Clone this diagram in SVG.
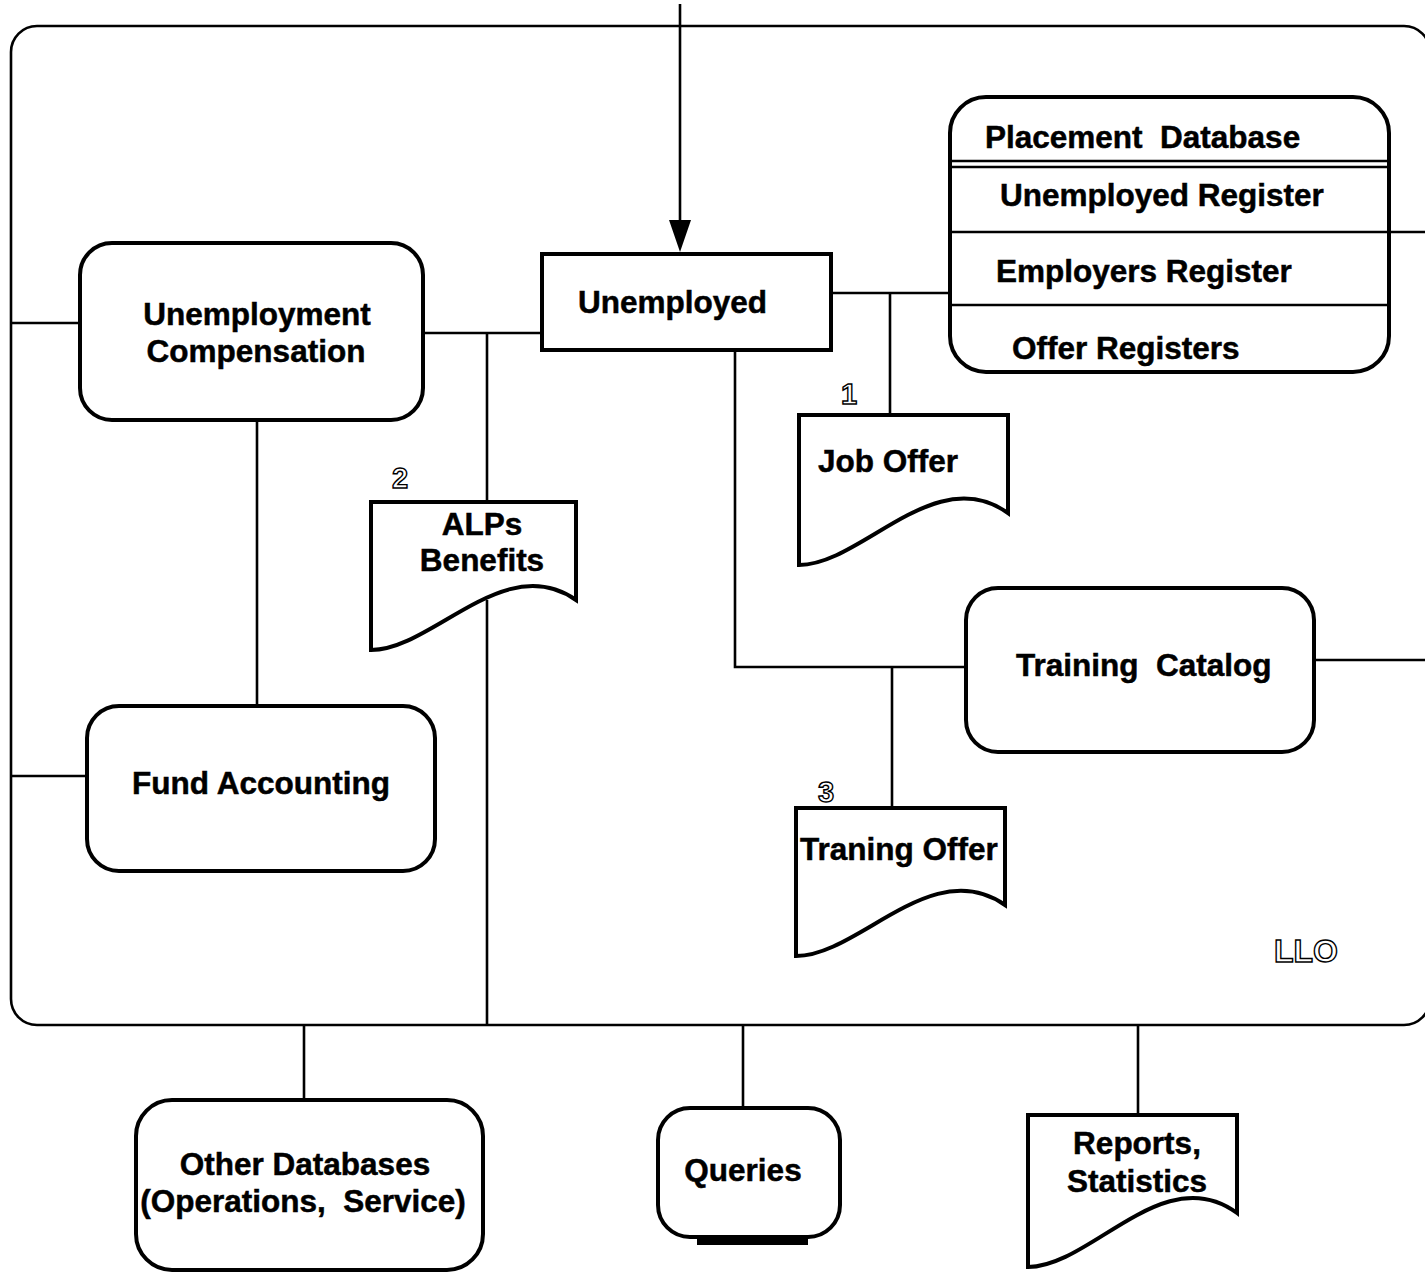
<svg xmlns="http://www.w3.org/2000/svg" width="1425" height="1272" viewBox="0 0 1425 1272">
  <style>
    .box { fill: #ffffff; stroke: #000000; stroke-width: 4; }
    .frame { fill: #ffffff; stroke: #000000; stroke-width: 2.6; }
    .wire { fill: none; stroke: #000000; stroke-width: 2.6; }
    .lbl { font-family: "Liberation Sans", Arial, Helvetica, sans-serif; font-weight: bold; font-size: 31.5px; fill: #000000; stroke: #000000; stroke-width: 0.5; }
    .mid { text-anchor: middle; }
    .hollow { font-family: "Liberation Sans", Arial, Helvetica, sans-serif; font-weight: bold; fill: #ffffff; stroke: #000000; stroke-width: 1.4; }
  </style>

  <rect width="1425" height="1272" fill="#ffffff"/>

  <!-- system boundary -->
  <rect class="frame" x="11" y="26" width="1419" height="999" rx="26" ry="26"/>

  <!-- connectors -->
  <g id="connectors">
    <line class="wire" x1="680" y1="4" x2="680" y2="220"/>
    <path d="M669,220 L691,220 L680,252 Z" fill="#000000"/>
    <!-- left edge feeds -->
    <line class="wire" x1="11" y1="323" x2="80" y2="323"/>
    <line class="wire" x1="11" y1="776" x2="87" y2="776"/>
    <!-- compensation to fund accounting -->
    <line class="wire" x1="257" y1="420" x2="257" y2="706"/>
    <!-- compensation to unemployed -->
    <line class="wire" x1="423" y1="333" x2="542" y2="333"/>
    <!-- benefits branch -->
    <line class="wire" x1="487" y1="333" x2="487" y2="502"/>
    <line class="wire" x1="487" y1="600" x2="487" y2="1025"/>
    <!-- unemployed to placement database -->
    <line class="wire" x1="831" y1="293" x2="950" y2="293"/>
    <line class="wire" x1="890" y1="293" x2="890" y2="415"/>
    <line class="wire" x1="1389" y1="232" x2="1425" y2="232"/>
    <!-- unemployed to training catalog -->
    <polyline class="wire" points="735,350 735,667 966,667"/>
    <line class="wire" x1="892" y1="667" x2="892" y2="808"/>
    <line class="wire" x1="1314" y1="660" x2="1425" y2="660"/>
    <!-- outputs below the boundary -->
    <line class="wire" x1="304" y1="1025" x2="304" y2="1100"/>
    <line class="wire" x1="743" y1="1025" x2="743" y2="1108"/>
    <line class="wire" x1="1138" y1="1025" x2="1138" y2="1115"/>
  </g>

  <g id="unemployed">
    <rect class="box" x="542" y="254" width="289" height="96"/>
    <text class="lbl" x="578" y="313">Unemployed</text>
  </g>

  <g id="unemployment-compensation">
    <rect class="box" x="80" y="243" width="343" height="177" rx="32" ry="32"/>
    <text class="lbl mid" x="257" y="325">Unemployment</text>
    <text class="lbl mid" x="256" y="362">Compensation</text>
  </g>

  <g id="fund-accounting">
    <rect class="box" x="87" y="706" width="348" height="165" rx="32" ry="32"/>
    <text class="lbl mid" x="261" y="794">Fund Accounting</text>
  </g>

  <g id="placement-database">
    <rect class="box" x="950" y="97" width="439" height="275" rx="36" ry="36"/>
    <line class="wire" x1="950" y1="161" x2="1389" y2="161"/>
    <line class="wire" x1="950" y1="167" x2="1389" y2="167"/>
    <line class="wire" x1="950" y1="232" x2="1389" y2="232"/>
    <line class="wire" x1="950" y1="305" x2="1389" y2="305"/>
    <text class="lbl" x="985" y="148" xml:space="preserve">Placement  Database</text>
    <text class="lbl" x="1000" y="206">Unemployed Register</text>
    <text class="lbl" x="996" y="282">Employers Register</text>
    <text class="lbl" x="1012" y="359">Offer Registers</text>
  </g>

  <g id="job-offer">
    <path class="box" d="M799,415 H1008 V513 C934.9,461 861.7,565 799,565 Z"/>
    <text class="lbl" x="818" y="472">Job Offer</text>
    <text class="hollow" x="849" y="404" font-size="29" text-anchor="middle">1</text>
  </g>

  <g id="alps-benefits">
    <path class="box" d="M371,502 H576 V600 C504.3,550 432.5,650 371,650 Z"/>
    <text class="lbl mid" x="482" y="535">ALPs</text>
    <text class="lbl mid" x="482" y="571">Benefits</text>
    <text class="hollow" x="400" y="488" font-size="29" text-anchor="middle">2</text>
  </g>

  <g id="training-catalog">
    <rect class="box" x="966" y="588" width="348" height="164" rx="32" ry="32"/>
    <text class="lbl" x="1016" y="676" xml:space="preserve">Training  Catalog</text>
  </g>

  <g id="training-offer">
    <path class="box" d="M796,808 H1005 V905 C931.9,854 858.7,956 796,956 Z"/>
    <text class="lbl" x="800" y="860">Traning Offer</text>
    <text class="hollow" x="826" y="802" font-size="29" text-anchor="middle">3</text>
  </g>

  <text id="llo" class="hollow" x="1306" y="962" font-size="32" text-anchor="middle">LLO</text>

  <g id="other-databases">
    <rect class="box" x="136" y="1100" width="347" height="170" rx="36" ry="36"/>
    <text class="lbl mid" x="305" y="1175">Other Databases</text>
    <text class="lbl mid" x="303" y="1212" xml:space="preserve">(Operations,  Service)</text>
  </g>

  <g id="queries">
    <rect x="697" y="1234" width="111" height="11" fill="#000000"/>
    <rect class="box" x="658" y="1108" width="182" height="129" rx="32" ry="32"/>
    <text class="lbl mid" x="743" y="1181">Queries</text>
  </g>

  <g id="reports-statistics">
    <path class="box" d="M1028,1115 H1237 V1213 C1163.9,1159 1090.7,1267 1028,1267 Z"/>
    <text class="lbl mid" x="1137" y="1154">Reports,</text>
    <text class="lbl mid" x="1137" y="1192">Statistics</text>
  </g>
</svg>
